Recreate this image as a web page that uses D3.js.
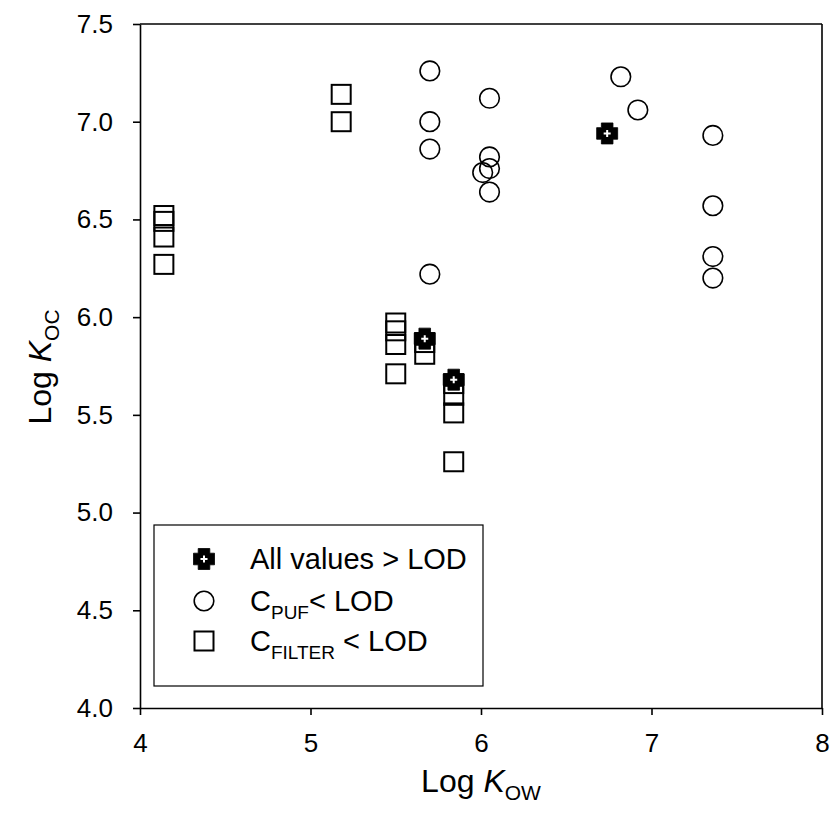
<!DOCTYPE html>
<html>
<head>
<meta charset="utf-8">
<script src="https://cdn.jsdelivr.net/npm/d3@7"></script>
<style>
  html, body { margin: 0; padding: 0; background: #fff; }
  svg { display: block; font-family: "Liberation Sans", Arial, sans-serif; }
</style>
</head>
<body>
<svg id="chart" width="830" height="826"></svg>
<script>
// Log Kow vs Log Koc, grouped by detection status
const allAboveX = [5.67, 5.84, 6.74];
const allAboveY = [5.89, 5.68, 6.94];

const pufBelowX = [5.70, 5.70, 5.70, 5.70, 6.05, 6.05, 6.05, 6.01, 6.05, 6.82, 6.92, 7.36, 7.36, 7.36, 7.36];
const pufBelowY = [7.26, 7.00, 6.86, 6.22, 7.12, 6.82, 6.76, 6.74, 6.64, 7.23, 7.06, 6.93, 6.57, 6.31, 6.20];

const filterBelowX = [4.14, 4.14, 4.14, 4.14, 5.18, 5.18, 5.50, 5.50, 5.50, 5.50, 5.67, 5.67, 5.84, 5.84, 5.84, 5.84];
const filterBelowY = [6.52, 6.49, 6.41, 6.27, 7.14, 7.00, 5.97, 5.93, 5.86, 5.71, 5.87, 5.81, 5.66, 5.60, 5.51, 5.26];

const xTicks = [4, 5, 6, 7, 8];
const yTicks = [4.0, 4.5, 5.0, 5.5, 6.0, 6.5, 7.0, 7.5];

const legendLabels = ["All values > LOD", "C|PUF|< LOD", "C|FILTER| < LOD"];

const svg = d3.select("#chart");
const plotL = 140, plotR = 822, plotT = 24, plotB = 708;

const x = d3.scaleLinear().domain([4, 8]).range([plotL, plotR]);
const y = d3.scaleLinear().domain([4, 7.5]).range([plotB, plotT]);

const zip = (xs, ys) => xs.map((v, i) => ({ x: v, y: ys[i] }));

// frame: top and right edges
svg.append("line").attr("x1", plotL).attr("x2", plotR).attr("y1", plotT).attr("y2", plotT)
  .attr("stroke", "#000").attr("stroke-width", 1.6);
svg.append("line").attr("x1", plotR).attr("x2", plotR).attr("y1", plotT).attr("y2", plotB)
  .attr("stroke", "#000").attr("stroke-width", 1.6);

// axes
const xAxis = svg.append("g").attr("transform", `translate(0,${plotB})`)
  .call(d3.axisBottom(x).tickValues(xTicks).tickFormat(d3.format("d")).tickSize(7).tickSizeOuter(0).tickPadding(19));
const yAxis = svg.append("g").attr("transform", `translate(${plotL},0)`)
  .call(d3.axisLeft(y).tickValues(yTicks).tickFormat(d3.format(".1f")).tickSize(7).tickSizeOuter(0).tickPadding(20));

[xAxis, yAxis].forEach(g => {
  g.attr("font-size", 26).attr("font-family", "'Liberation Sans', Arial, sans-serif");
  g.select(".domain").attr("stroke", "#000").attr("stroke-width", 1.6);
  g.selectAll(".tick line").attr("stroke", "#000").attr("stroke-width", 1.6);
  g.selectAll(".tick text").attr("fill", "#000");
});

// symbol drawers
const sq = 19;
function drawSquare(g, cx, cy) {
  g.append("rect").attr("x", cx - sq / 2).attr("y", cy - sq / 2)
    .attr("width", sq).attr("height", sq)
    .attr("fill", "none").attr("stroke", "#000").attr("stroke-width", 2);
}
function drawCircle(g, cx, cy) {
  g.append("circle").attr("cx", cx).attr("cy", cy).attr("r", 9.8)
    .attr("fill", "none").attr("stroke", "#000").attr("stroke-width", 1.6);
}
function drawCross(g, cx, cy) {
  const h = 10.5, a = 5.8;
  const p = [[-a, -h], [a, -h], [a, -a], [h, -a], [h, a], [a, a], [a, h], [-a, h], [-a, a], [-h, a], [-h, -a], [-a, -a]];
  g.append("path")
    .attr("d", "M" + p.map(q => `${cx + q[0]},${cy + q[1]}`).join("L") + "Z")
    .attr("fill", "#000").attr("stroke", "#000").attr("stroke-width", 0.8).attr("stroke-linejoin", "round");
  g.append("path")
    .attr("d", `M${cx - 3.5},${cy}L${cx + 3.5},${cy}M${cx},${cy - 3.5}L${cx},${cy + 3.5}`)
    .attr("stroke", "#fff").attr("stroke-width", 2);
}

const marks = svg.append("g");
zip(filterBelowX, filterBelowY).forEach(d => drawSquare(marks, x(d.x), y(d.y)));
zip(pufBelowX, pufBelowY).forEach(d => drawCircle(marks, x(d.x), y(d.y)));
zip(allAboveX, allAboveY).forEach(d => drawCross(marks, x(d.x), y(d.y)));

// legend
const lg = svg.append("g");
lg.append("rect").attr("x", 154).attr("y", 525).attr("width", 329).attr("height", 161)
  .attr("fill", "#fff").attr("stroke", "#000").attr("stroke-width", 1.2);
const rowsY = [559, 601, 641];
const drawers = [drawCross, drawCircle, drawSquare];
legendLabels.forEach((lab, i) => {
  drawers[i](lg, 204, rowsY[i]);
  const parts = lab.split("|");
  const t = lg.append("text").attr("x", 250).attr("y", rowsY[i] + 10)
    .attr("font-size", 29).attr("fill", "#000");
  t.append("tspan").text(parts[0]);
  if (parts.length > 1) {
    t.append("tspan").attr("font-size", 19).attr("dy", 8).text(parts[1]);
    t.append("tspan").attr("dy", -8).text(parts[2]);
  }
});

// axis titles
const xt = svg.append("text").attr("x", 481).attr("y", 792).attr("text-anchor", "middle")
  .attr("font-size", 32).attr("fill", "#000");
xt.append("tspan").text("Log ");
xt.append("tspan").attr("font-style", "italic").text("K");
xt.append("tspan").attr("font-size", 21).attr("dy", 8).text("OW");

const yt = svg.append("text").attr("transform", "translate(51,367) rotate(-90)")
  .attr("text-anchor", "middle").attr("font-size", 32).attr("fill", "#000");
yt.append("tspan").text("Log ");
yt.append("tspan").attr("font-style", "italic").text("K");
yt.append("tspan").attr("font-size", 21).attr("dy", 8).text("OC");
</script>
</body>
</html>
